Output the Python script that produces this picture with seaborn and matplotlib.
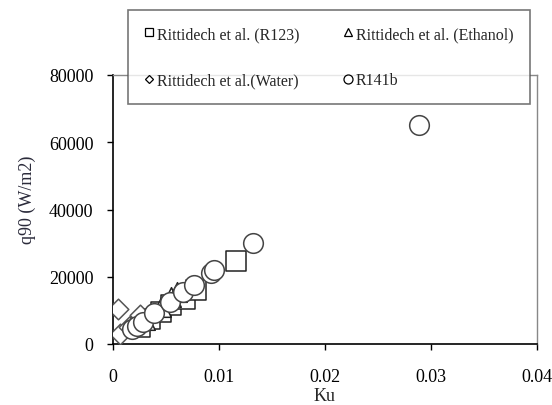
import matplotlib
matplotlib.use("Agg")
import matplotlib.pyplot as plt
import seaborn as sns
import pandas as pd
from matplotlib.lines import Line2D

sns.set_style("white")
plt.rcParams['font.family'] = ['Liberation Serif', 'DejaVu Serif']

# Data
r123_ku = [0.0025, 0.0035, 0.0045, 0.0055, 0.0068, 0.0078, 0.0116]
r123_q = [5000, 7500, 9500, 11500, 13500, 16000, 24700]

eth_ku = [0.0030, 0.0045, 0.0055, 0.0060]
eth_q = [7000, 11000, 14000, 15500]

water_ku = [0.0005, 0.0007, 0.0015, 0.0025]
water_q = [10500, 3000, 5000, 8500]

r141b_ku = [0.0018, 0.0023, 0.0028, 0.0039, 0.0054, 0.0066, 0.0076, 0.0092, 0.0095, 0.0132, 0.0289]
r141b_q = [4400, 5500, 6500, 9200, 12600, 15400, 17500, 21000, 22000, 30000, 65000]

labels = ["Rittidech et al. (R123)", "Rittidech et al. (Ethanol)",
          "Rittidech et al.(Water)", "R141b"]
x_ticks = [0, 0.01, 0.02, 0.03, 0.04]
x_tick_labels = ["0", "0.01", "0.02", "0.03", "0.04"]
y_ticks = [0, 20000, 40000, 60000, 80000]

fig = plt.figure(figsize=(5.52, 4.06), dpi=100)
ax = fig.add_axes([113/552, 1-345/406, (537-113)/552, (345-76)/406])

series = [
    (r123_ku, r123_q, "s", 200, "#222222"),
    (eth_ku, eth_q, "^", 200, "#222222"),
    (water_ku, water_q, "D", 110, "#555555"),
    (r141b_ku, r141b_q, "o", 200, "#444444"),
]
for xs, ys, m, s, ec in series:
    df = pd.DataFrame({"Ku": xs, "q": ys})
    sns.scatterplot(data=df, x="Ku", y="q", marker=m, s=s, facecolor="white",
                    edgecolor=ec, linewidth=1.1, ax=ax, legend=False, zorder=3)

ax.set_xlim(0, 0.04)
ax.set_ylim(0, 80000)
ax.set_xticks(x_ticks)
ax.set_xticklabels(x_tick_labels)
ax.set_yticks(y_ticks)
ax.tick_params(axis="both", direction="out", length=4, width=1, labelsize=13,
               colors="black", left=True, bottom=True)
ax.tick_params(axis="y", pad=10)
ax.tick_params(axis="x", pad=13)
ax.set_xlabel("Ku", fontsize=13)
ax.xaxis.set_label_coords(0.5, -(397-345)/269, transform=ax.transAxes)
ax.set_ylabel("q90 (W/m2)", fontsize=13, color="#2a2a3a")
ax.yaxis.set_label_coords(-(113-27.5)/424, (345-200)/269, transform=ax.transAxes)
ax.xaxis.label.set_va("center")
ax.yaxis.label.set_va("center")

for side in ["left", "bottom"]:
    ax.spines[side].set_color("black")
    ax.spines[side].set_linewidth(1.2)
for side in ["top", "right"]:
    ax.spines[side].set_color("#888888")
    ax.spines[side].set_linewidth(1.0)
    ax.spines[side].set_visible(True)

markers = ["s", "^", "D", "o"]
msz = [6, 6, 4.5, 6.5]
handles = [Line2D([], [], linestyle="none", marker=m, markersize=ms,
                  markerfacecolor="white", markeredgecolor="black",
                  markeredgewidth=0.9) for m, ms in zip(markers, msz)]
# legend laid out row-wise: (R123, Ethanol) / (Water, R141b)
order = [0, 2, 1, 3]
leg = fig.legend([handles[i] for i in order], [labels[i] for i in order],
                 ncol=2, loc="upper left",
                 bbox_to_anchor=(128/552, 1-11/406),
                 frameon=True, fancybox=False, fontsize=11.5,
                 handlelength=0.6, handletextpad=0.2, labelspacing=1.9,
                 borderpad=1.0, borderaxespad=0, columnspacing=2.75)
leg.get_frame().set_edgecolor("#555555")
leg.get_frame().set_linewidth(1.2)
leg.get_frame().set_facecolor("white")
leg.set_zorder(10)

fig.savefig("out.png", dpi=100)
